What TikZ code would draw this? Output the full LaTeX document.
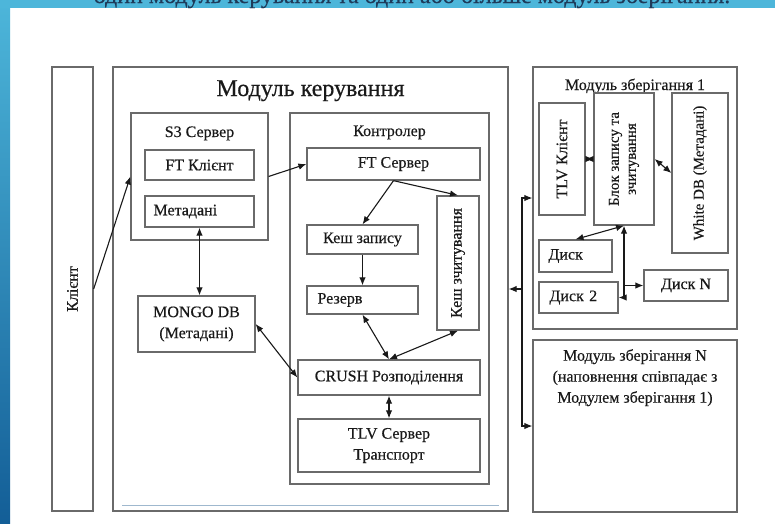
\documentclass[tikz,border=0pt]{standalone}
\usepackage{fontspec}
\setmainfont{Liberation Serif}[FakeBold=0.4]
\usetikzlibrary{positioning,arrows.meta}
\definecolor{boxgray}{HTML}{6A6A6A}
\definecolor{slideblue}{HTML}{4DB6DA}
\definecolor{slidedark}{HTML}{135E97}
\definecolor{slidetext}{HTML}{1E3B5A}
\definecolor{ruleblue}{HTML}{9FB8CE}
\tikzset{%
    every box/.style={
        draw=boxgray,
        line width=1.3pt,
        inner sep=2pt,
        align=center,
        text=black!90,
        font=\fontsize{16}{21}\selectfont
    },
    box vertical/.style={
        rotate=90
    },
    box title/.style={
        inner sep=0pt,
        align=center,
        text=black!90,
        font=\fontsize{16}{21}\selectfont
    },
    link/.style={
        draw=black!90,
        line width=1.1pt
    },
}
\begin{document}
\begin{tikzpicture}[x=1pt, y=-1pt, >={Latex[length=8pt,width=6.5pt]}]

        \clip (0,0) rectangle (775,523);
        \fill[white] (0,0) rectangle (775,523);
        \shade[top color=slideblue, bottom color=slidedark] (0,0) rectangle (10,523);
        \fill[slideblue] (0,0) rectangle (775,8);
        \node[anchor=base, text=slidetext, font=\fontsize{24}{28}\selectfont] (heading) at (412,3) {один модуль керування та один або більше модуль зберігання.};

        % client and control module
        \node[every box, box vertical, minimum width=444, minimum height=41] (client) at (72.5,289) {Клієнт};
        \node[every box, minimum width=395, minimum height=444] (control) at (310.5,289) {};
        \node[box title, anchor=base, font=\fontsize{24}{28}\selectfont] (control title) at (310.5,96) {Модуль керування};
        \draw[draw=ruleblue, line width=1.3pt] ([xshift=10pt,yshift=6pt]control.south west) -- ([xshift=-10pt,yshift=6pt]control.south east);

        \node[every box, minimum width=137, minimum height=127] (s3) at (199.5,176.5) {};
        \node[box title, anchor=base] (s3 title) at (199.5,137) {S3 Сервер};
        \node[every box, minimum width=109, minimum height=30] (ftclient) at (199.5,165) {FT Клієнт};
        \node[every box, minimum width=109, minimum height=31, text width=92, align=left] (meta) at (199.5,211.5) {Метадані};
        \node[every box, minimum width=117, minimum height=56] (mongo) at (196.5,324) {MONGO DB\\(Метадані)};

        \node[every box, minimum width=199, minimum height=371] (ctrl) at (389.5,298.5) {};
        \node[box title, anchor=base] (ctrl title) at (389.5,136) {Контролер};
        \node[every box, minimum width=173, minimum height=32] (ftserver) at (393.5,164) {FT Сервер};
        \node[every box, minimum width=111, minimum height=29] (wcache) at (362.5,239.5) {Кеш запису};
        \node[every box, minimum width=111, minimum height=28, text width=90, align=left] (reserve) at (362.5,300) {Резерв};
        \node[every box, box vertical, minimum width=134, minimum height=42] (rcache) at (458,263) {Кеш зчитування};
        \node[every box, minimum width=182, minimum height=35] (crush) at (389,377.5) {CRUSH Розподілення};
        \node[every box, minimum width=182, minimum height=53] (tlv) at (389,445.5) {TLV Сервер\\Транспорт};

        % storage modules
        \node[every box, minimum width=204, minimum height=262] (store1) at (635,198) {};
        \node[box title, anchor=base] (store1 title) at (635,90) {Модуль зберігання 1};
        \node[every box, box vertical, minimum width=112, minimum height=46] (tlvclient) at (562,159) {TLV Клієнт};
        \node[every box, box vertical, minimum width=132, minimum height=60, font=\fontsize{15}{17}\selectfont] (rwblock) at (624,159) {Блок запису та\\зчитування};
        \node[every box, box vertical, minimum width=160, minimum height=56, font=\fontsize{15}{18}\selectfont] (whitedb) at (700,173) {White DB (Метадані)};
        \node[every box, minimum width=73, minimum height=32, text width=54, align=left] (disk) at (575.5,256) {Диск};
        \node[every box, minimum width=79, minimum height=31, text width=58, align=left] (disk2) at (578.5,297.5) {Диск 2};
        \node[every box, minimum width=84, minimum height=31] (diskn) at (686,285.5) {Диск N};

        \node[every box, minimum width=204, minimum height=172] (storeN) at (635,426) {};
        \node[box title, anchor=north] (storeN title) at (635,349) {Модуль зберігання N\\(наповнення співпадає з\\Модулем зберігання 1)};

        % connectors
        \draw[link, ->] (client.south) -- (s3.west);
        \draw[link, ->] (s3.east) -- (ftserver.west);
        \draw[link, ->] (ftserver.south) -- (wcache.north);
        \draw[link, ->] (ftserver.south) -- (rcache.east);
        \draw[link, ->] (wcache.south) -- (reserve.north);
        \draw[link, <->] (meta.south) -- (meta.south |- mongo.north);

        \foreach \a/\b in {mongo.east/crush.west, reserve.south/crush.north, rcache.west/crush.north, crush.south/tlv.north, tlvclient.south/rwblock.north, rwblock.south/whitedb.north, rwblock.west/disk.north}
            \draw[link, <->] (\a) -- (\b);

        \draw[link, <->] (rwblock.west) |- (disk2.east);
        \draw[link, ->] (rwblock.west |- diskn.west) -- (diskn.west);

        \coordinate (bus) at (522,289);
        \draw[link, <->] (store1.west) -| (bus) |- (storeN.west);
        \draw[link, ->] (bus) -- (control.east);

    \end{tikzpicture}
\end{document}
